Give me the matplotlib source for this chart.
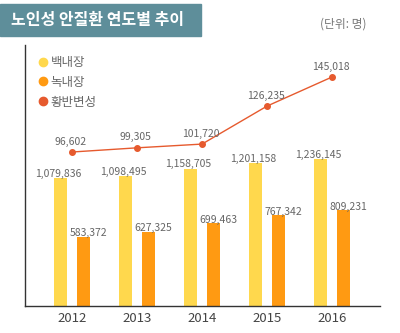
import numpy as np
import matplotlib.pyplot as plt
from matplotlib.patches import Rectangle
from matplotlib.lines import Line2D

plt.rcParams['font.family'] = ['Noto Sans CJK KR', 'DejaVu Sans']

# data
years = ['2012', '2013', '2014', '2015', '2016']
cataract = [1079836, 1098495, 1158705, 1201158, 1236145]   # 백내장
glaucoma = [583372, 627325, 699463, 767342, 809231]        # 녹내장
macular = [96602, 99305, 101720, 126235, 145018]           # 황반변성
series_names = ['백내장', '녹내장', '황반변성']

c_yellow = '#FFD84D'
c_orange = '#FF9A12'
c_red = '#E65A2E'
c_text = '#666666'

fig = plt.figure(figsize=(4, 3.33), dpi=100)
ax = fig.add_axes([0.0625, 0.081, 0.8875, 0.784])

x = np.arange(len(years))
w = 0.2
off = 0.172

ax.bar(x - off, cataract, w, color=c_yellow)
ax.bar(x + off, glaucoma, w, color=c_orange)

for xi, v in zip(x, cataract):
    ax.annotate(f'{v:,}', (xi - off, v), xytext=(-2, 3), textcoords='offset points',
                ha='center', va='center', fontsize=7.5, color=c_text)
for xi, v in zip(x, glaucoma):
    ax.annotate(f'{v:,}', (xi + off, v), xytext=(4, 2.5), textcoords='offset points',
                ha='center', va='center', fontsize=7.5, color=c_text)

ax.set_xlim(-0.723, 4.738)
ax.set_ylim(0, 2.2e6)
ax.set_xticks(x)
ax.set_xticklabels(years, fontsize=9.5, color='#444444')
ax.tick_params(axis='x', length=0, pad=4)
ax.set_yticks([])
for s in ['top', 'right']:
    ax.spines[s].set_visible(False)
for s in ['left', 'bottom']:
    ax.spines[s].set_color('#333333')
    ax.spines[s].set_linewidth(1)

ax2 = ax.twinx()
ax2.plot(x, macular, color=c_red, lw=1, marker='o', markersize=4)
for xi, v in zip(x, macular):
    ax2.annotate(f'{v:,}', (xi, v), xytext=(-1, 7.5), textcoords='offset points',
                 ha='center', va='center', fontsize=7.5, color=c_text)
ax2.set_ylim(-2800, 165700)
ax2.set_yticks([])
for s in ['top', 'right', 'left', 'bottom']:
    ax2.spines[s].set_visible(False)

handles = [Line2D([], [], ls='none', marker='o', markersize=6, color=c)
           for c in [c_yellow, c_orange, c_red]]
fig.legend(handles, series_names, loc='upper left', bbox_to_anchor=(0.08, 0.847),
           frameon=False, fontsize=9, labelcolor=c_text, handletextpad=0.1,
           handlelength=1.0, labelspacing=0.55, borderaxespad=0)

# title box
fig.patches.append(Rectangle((0, 1 - 36 / 333), 201 / 400, 32 / 333,
                             transform=fig.transFigure, color='#5E8E9A', zorder=0))
fig.text(11 / 400, 1 - 20 / 333, '노인성 안질환 연도별 추이', color='white',
         fontsize=11.5, fontweight='bold', va='center', ha='left')
fig.text(367 / 400, 1 - 24 / 333, '(단위: 명)', color='#777777', fontsize=8.5,
         va='center', ha='right')

fig.savefig('out.png', dpi=100)
